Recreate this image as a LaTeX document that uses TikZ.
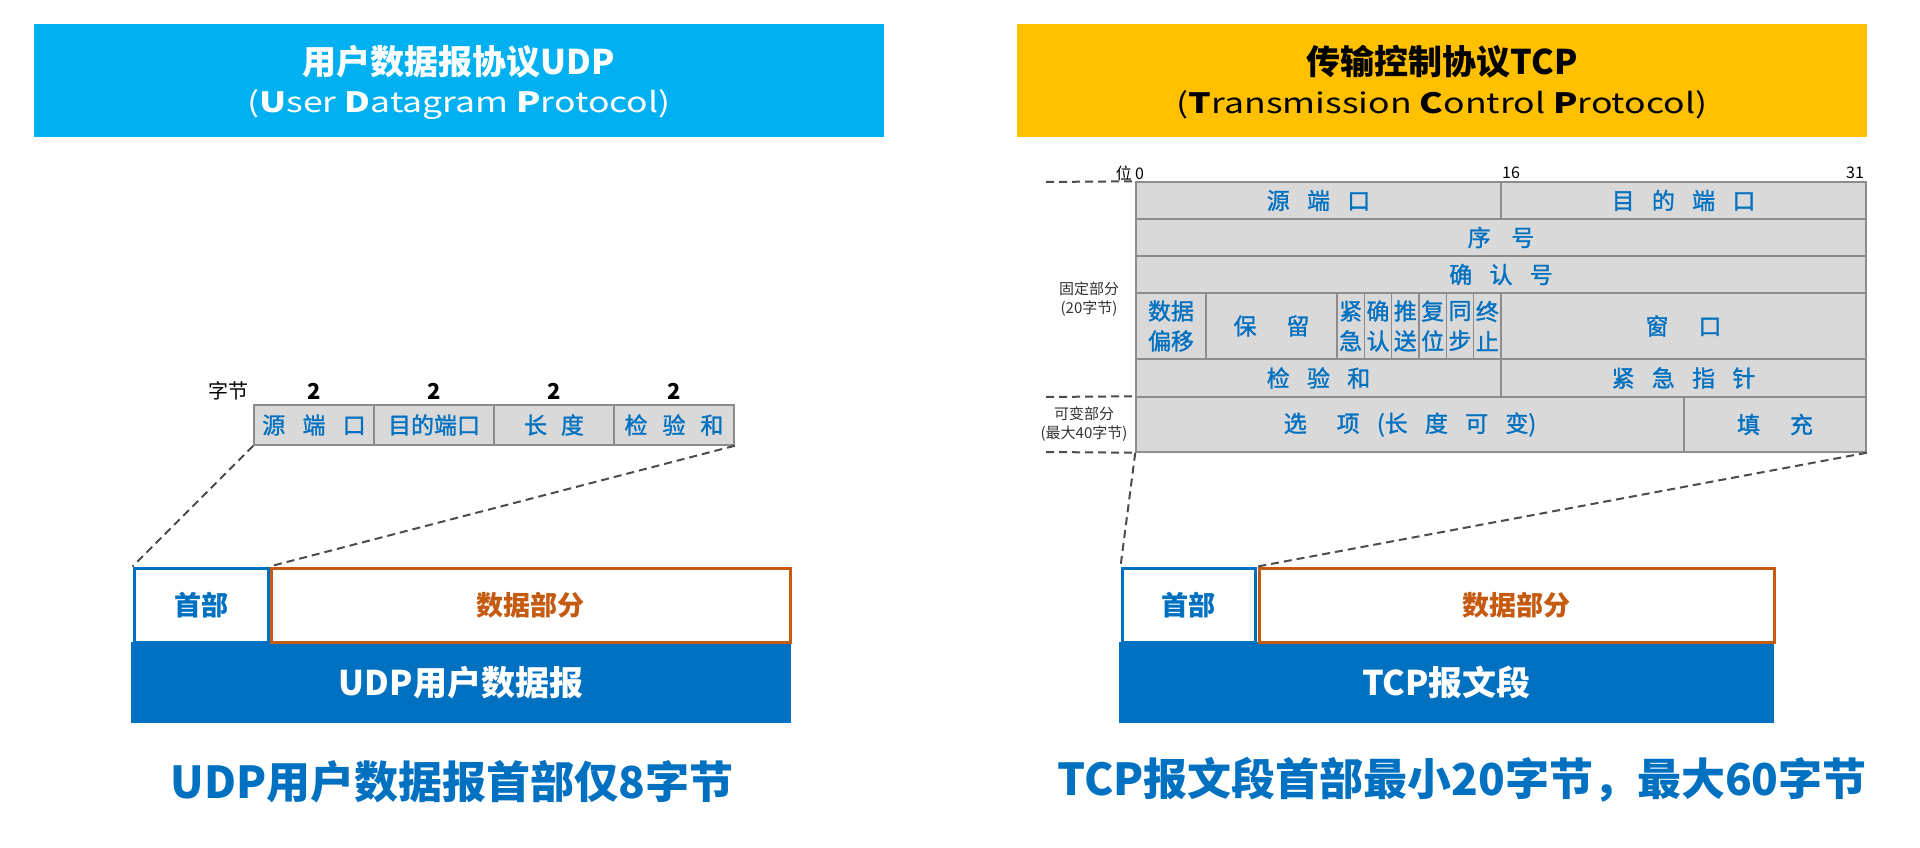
\documentclass[tikz,border=0pt]{standalone}
\usepackage{fontspec}
\setmainfont{Noto Sans CJK SC}
\newfontfamily\widefont{Noto Sans CJK SC}[FakeStretch=1.27]
\newfontfamily\cellfont{Noto Sans CJK SC}[FakeBold=1.2]
\usepackage{tikz}
\usetikzlibrary{arrows.meta}
\definecolor{udpcyan}{HTML}{00B0F0}
\definecolor{tcpgold}{HTML}{FFC000}
\definecolor{hdrblue}{HTML}{0070C0}
\definecolor{dataorange}{HTML}{C55A11}
\definecolor{cellgray}{HTML}{D9D9D9}
\definecolor{cellline}{HTML}{8C8C8C}
\newcommand{\fs}[1]{\fontsize{#1}{#1}\selectfont}
\newcommand{\sg}{\hspace{0.75em}}
\newcommand{\wg}{\hspace{1.3em}}

\tikzset{
    field/.style={draw=cellline, fill=cellgray, line width=1.5, inner sep=0, text=hdrblue, font=\cellfont\fontsize{23}{30}\selectfont, align=center},
    titlebar/.style={minimum width=850, minimum height=113, inner sep=0},
    hdrbox/.style={draw=hdrblue, fill=white, line width=3, minimum height=74, inner sep=0, text=hdrblue, font=\fs{27}\bfseries},
    databox/.style={draw=dataorange, fill=white, line width=3, minimum height=74, inner sep=0, text=dataorange, font=\fs{27}\bfseries},
    bar/.style={fill=hdrblue, minimum height=81, inner sep=0, text=white, font=\fs{34}\bfseries},
    link/.style={draw=black!70, line width=2, dash pattern=on 8pt off 5pt},
    note/.style={inner sep=0, text=black!80, font=\fontsize{15}{19}\selectfont, align=center}
}

\begin{document}
\begin{tikzpicture}[x=1pt, y=-1pt]
        \useasboundingbox (0,0) rectangle (1920,848);

        \node[titlebar, fill=udpcyan] (udptitle) at (459,80.5) {};
        \node[text=white, font=\fs{34}\bfseries] (udpname) at (459,62) {用户数据报协议UDP};
        \node[text=white, font=\widefont\fs{28}] (udpfull) at (459,105) {(\textbf{U}ser \textbf{D}atagram \textbf{P}rotocol)};

        \node[titlebar, fill=tcpgold] (tcptitle) at (1442,80.5) {};
        \node[text=black, font=\fs{34}\bfseries] (tcpname) at (1442,62) {传输控制协议TCP};
        \node[text=black, font=\widefont\fs{28}] (tcpfull) at (1442,105) {(\textbf{T}ransmission \textbf{C}ontrol \textbf{P}rotocol)};

        \node[font=\fs{20}] (ubytes) at (228,391) {字节};
        \foreach \x/\n in {314/a, 434/b, 554/c, 674/d}
            \node[font=\fs{22}\bfseries] (ubyte\n) at (\x,391) {2};
        \node[field, minimum width=120, minimum height=40] (usrc) at (314,425) {源\sg 端\sg 口};
        \node[field, minimum width=120, minimum height=40] (udst) at (434,425) {目的端口};
        \node[field, minimum width=120, minimum height=40] (ulen) at (554,425) {长\hspace{0.6em}度};
        \node[field, minimum width=120, minimum height=40] (usum) at (674,425) {检\hspace{0.65em}验\hspace{0.65em}和};

        \node[bar, minimum width=660] (udpbar) at (461,682.5) {UDP用户数据报};
        \node[hdrbox, minimum width=134] (udphead) at (201,605) {首部};
        \node[databox, minimum width=519] (udpdata) at (530.5,605) {数据部分};
        \draw[link] (usrc.south west) -- (udphead.north west);
        \draw[link] (usum.south east) -- (udpdata.north west);
        \node[text=hdrblue, font=\fs{44}\bfseries] (udpnote) at (452,782) {UDP用户数据报首部仅8字节};

        \node[font=\fs{16}] (bit0) at (1130,173) {位\hspace{0.2em}0};
        \node[font=\fs{16}] (bit16) at (1511,173) {16};
        \node[font=\fs{16}] (bit31) at (1855,173) {31};

        \node[field, minimum width=365, minimum height=37] (tsrc) at (1318.5,200.5) {源\sg 端\sg 口};
        \node[field, minimum width=365, minimum height=37] (tdst) at (1683.5,200.5) {目\sg 的\sg 端\sg 口};
        \node[field, minimum width=730, minimum height=37] (tseq) at (1501,237.5) {序\hspace{0.9em}号};
        \node[field, minimum width=730, minimum height=37] (tack) at (1501,274.5) {确\sg 认\sg 号};
        \node[field, minimum width=70, minimum height=66] (toff) at (1171,326) {数据\\偏移};
        \node[field, minimum width=131, minimum height=66] (tres) at (1271.5,326) {保\wg 留};
        \foreach \i/\a/\b/\n in {0/紧/急/urg, 1/确/认/ack, 2/推/送/psh, 3/复/位/rst, 4/同/步/syn, 5/终/止/fin}
            \node[field, minimum width=27.33, minimum height=66] (t\n) at (1350.67+27.33*\i,326) {\a\\\b};
        \node[field, minimum width=365, minimum height=66] (twin) at (1683.5,326) {窗\wg 口};
        \node[field, minimum width=365, minimum height=38] (tsum) at (1318.5,378) {检\sg 验\sg 和};
        \node[field, minimum width=365, minimum height=38] (tptr) at (1683.5,378) {紧\sg 急\sg 指\sg 针};
        \node[field, minimum width=548, minimum height=55] (topt) at (1410,424.5) {选\wg 项\sg (长\sg 度\sg 可\sg 变)};
        \node[field, minimum width=182, minimum height=55] (tpad) at (1775,424.5) {填\wg 充};

        \coordinate (fixtop) at (1046,182);
        \coordinate (vartop) at (1046,397);
        \coordinate (varbot) at (1046,452);
        \draw[link] (fixtop) -- (tsrc.north west);
        \draw[link] (vartop) -- (topt.north west);
        \draw[link] (varbot) -- (topt.south west);
        \node[note] (fixnote) at (1089,299.5) {固定部分\\(20字节)};
        \node[note] (varnote) at (1084,424.5) {可变部分\\(最大40字节)};

        \node[bar, minimum width=655] (tcpbar) at (1446.5,682.5) {TCP报文段};
        \node[hdrbox, minimum width=133] (tcphead) at (1188.5,605) {首部};
        \node[databox, minimum width=515] (tcpdata) at (1516.5,605) {数据部分};
        \draw[link] (topt.south west) -- (tcphead.north west);
        \draw[link] (tpad.south east) -- (tcpdata.north west);
        \node[text=hdrblue, font=\fs{44}\bfseries] (tcpnote) at (1462,780) {TCP报文段首部最小20字节，最大60字节};
\end{tikzpicture}
\end{document}
